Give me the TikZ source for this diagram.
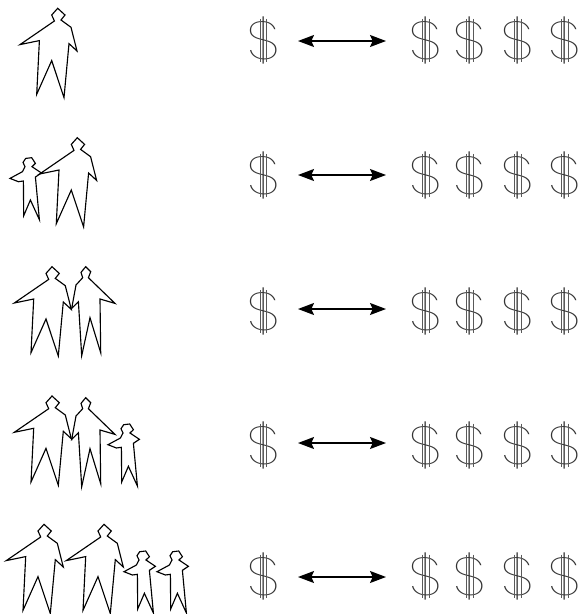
\documentclass[tikz,border=0pt]{standalone}
\usepackage{fontspec}
\usetikzlibrary{arrows.meta}
\newfontfamily\thinfont{Poppins Thin}
\tikzset{
  person/.style={draw=black,fill=white,line width=0.85pt},
  dollar/.style={inner sep=0pt,text=black!80,transform shape,xscale=1.2,font=\thinfont\fontsize{40}{40}\selectfont},
  stem/.style={draw=black!65,line width=0.45pt},
  pairarrow/.style={line width=0.95pt,{Stealth[length=12pt,width=9pt,inset=2pt]}-{Stealth[length=12pt,width=9pt,inset=2pt]}},
  adult/.pic={
    \path[person] (0,0) -- (7.3,6.7) -- (3.3,11.7) -- (13.3,19) -- (19.3,42.7) -- (11.3,35.3) -- (6.3,89.3) -- (-6,52.3) -- (-21,86) -- (-18.3,32.3) -- (-37.7,36.3) -- (-3.3,12.7) -- (-6,6.7) -- cycle;
  },
  partner/.pic={
    \path[person] (0,0) -- (5,5) -- (2.7,11) -- (29.3,36.7) -- (14.3,32.3) -- (15,86) -- (4.3,51) -- (-4,89) -- (-7.3,35) -- (-14,41.7) -- (-9.7,18.3) -- (-3,11) -- (-4.7,5.7) -- cycle;
  },
  child/.pic={
    \path[person] (-3,0.7) -- (3,0) -- (6.7,5.7) -- (3.3,9) -- (12.7,15.3) -- (6.7,19.3) -- (10.7,62) -- (1.7,42.3) -- (-5,58) -- (-5.3,23.3) -- (-10.3,24) -- (-18.7,20.7) -- (-6.3,14) -- (-3.7,9) -- (-5.7,4.7) -- cycle;
  }
}
\begin{document}
\begin{tikzpicture}[x=0.75pt,y=-0.75pt]
  \useasboundingbox (0,0) rectangle (583,614);
  % families, children first so that the adults lie over them
  \pic at (57.7,8.3) {adult};
  \pic at (28.7,157.7) {child};
  \pic at (77.3,137.7) {adult};
  \pic at (85.7,266.7) {partner};
  \pic at (52,266.7) {adult};
  \pic at (126.7,424) {child};
  \pic at (85.7,397.7) {partner};
  \pic at (52,396) {adult};
  \pic at (142.7,551) {child};
  \pic at (175.7,551) {child};
  \pic at (104,524.3) {adult};
  \pic at (44,524.3) {adult};
  % one row of money per family
  \foreach \r/\ya/\yd in {1/41/40.3, 2/175/175.3, 3/309/311.6, 4/443/445, 5/577/576}{
    \foreach \c/\x in {0/263.3, 1/425.7, 2/470, 3/518, 4/565}{
      \node[dollar] (d\r\c) at (\x,\yd) {\$};
      \draw[stem] (d\r\c) ++(-3.3,-21.5) -- ++(0,43);
      \draw[stem] (d\r\c) ++(3.3,-21.5) -- ++(0,43);
    }
    \coordinate (al\r) at (298,\ya);
    \coordinate (ar\r) at (386,\ya);
    \draw[pairarrow] (al\r) -- (ar\r);
  }
\end{tikzpicture}
\end{document}
